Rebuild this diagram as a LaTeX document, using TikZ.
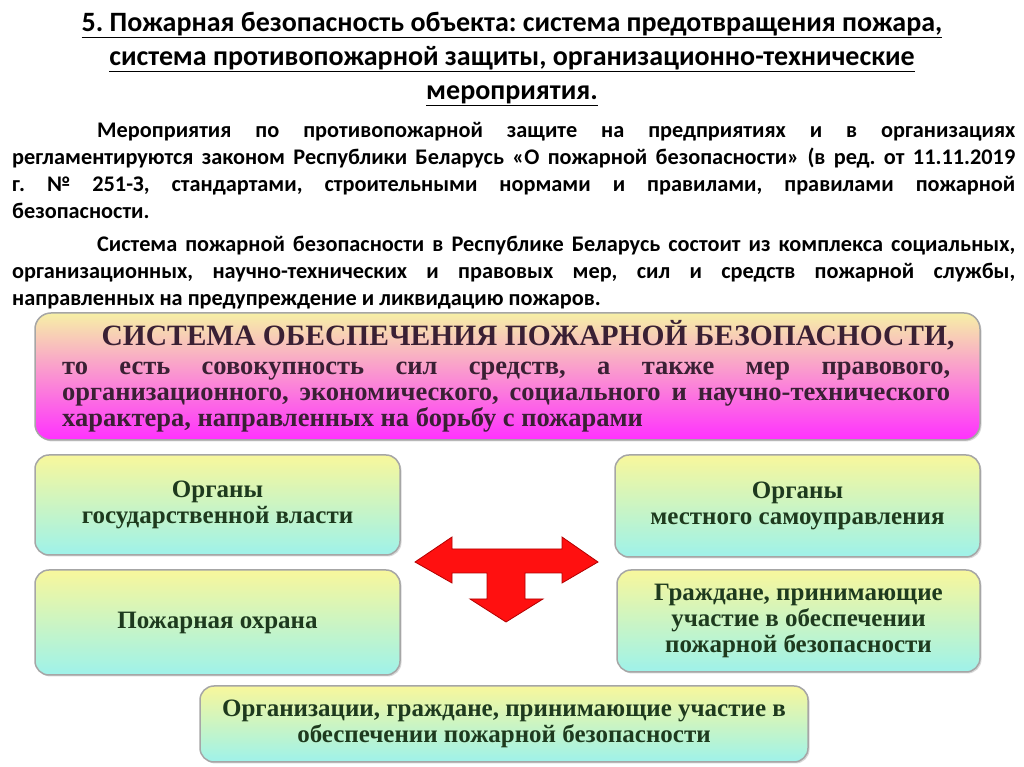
\documentclass[tikz,border=0pt]{standalone}
\usepackage{fontspec}
\setmainfont{Carlito}
\newfontfamily\boxfont{Liberation Serif}
\usetikzlibrary{shadows}
\frenchspacing
\definecolor{boxyel}{HTML}{F8F79C}
\definecolor{boxmid}{HTML}{D6F6BE}
\definecolor{boxcyan}{HTML}{9EF2EA}
\definecolor{topyel}{HTML}{F6F0A6}
\definecolor{topmid}{HTML}{F094DC}
\definecolor{topmag}{HTML}{FF30FF}
\definecolor{boxtext}{HTML}{1E3A1E}
\definecolor{toptext}{HTML}{3A2034}
\definecolor{arrowred}{HTML}{FF1010}
\tikzset{
  x=1pt, y=1pt,
  greenbox/.style={draw=gray!70, line width=1.5pt, rounded corners=14pt,
    top color=boxyel, middle color=boxmid, bottom color=boxcyan,
    drop shadow={shadow xshift=1.5pt, shadow yshift=-1.5pt, fill=gray!60},
    align=center, text=boxtext, font=\boxfont\bfseries\fontsize{25}{26}\selectfont,
    inner sep=0pt},
  pinkbox/.style={draw=gray!70, line width=1.5pt, rounded corners=16pt,
    top color=topyel, middle color=topmid, bottom color=topmag,
    drop shadow={shadow xshift=1.5pt, shadow yshift=-1.5pt, fill=gray!60},
    inner sep=0pt},
  para/.style={anchor=north west, inner sep=0pt, text width=1003pt, align=justify,
    font=\bfseries\fontsize{22.3}{27}\selectfont},
}
\begin{document}
\begin{tikzpicture}
\useasboundingbox (0,0) rectangle (1024,767);
\fill[white] (0,0) rectangle (1024,767);

% title
\node[align=center, inner sep=0pt, font=\bfseries\fontsize{28}{34}\selectfont] (title) at (512,708)
  {\underline{5. Пожарная безопасность объекта: система предотвращения пожара,}\\
   \underline{система противопожарной защиты, организационно-технические}\\
   \underline{мероприятия.}};

% paragraphs
\node[para] (p1) at (12,645)
  {\hspace*{85pt}Мероприятия по противопожарной защите на предприятиях и в организациях\linebreak
   регламентируются законом Республики Беларусь «О пожарной безопасности» (в ред. от 11.11.2019\linebreak
   г. № 251-З, стандартами, строительными нормами и правилами, правилами пожарной\linebreak
   безопасности.};
\node[para] (p2) at (12,531)
  {\hspace*{85pt}Система пожарной безопасности в Республике Беларусь состоит из комплекса социальных,\linebreak
   организационных, научно-технических и правовых мер, сил и средств пожарной службы,\linebreak
   направленных на предупреждение и ликвидацию пожаров.};

% top box
\node[pinkbox, minimum width=945pt, minimum height=127pt] (sys) at (507.5,390.5) {};
\node[inner sep=0pt, text=toptext, font=\boxfont\bfseries\fontsize{29.5}{30}\selectfont] (sysh) at (528,432)
  {СИСТЕМА ОБЕСПЕЧЕНИЯ ПОЖАРНОЙ БЕЗОПАСНОСТИ,};
\node[anchor=north west, inner sep=0pt, text width=888pt, align=justify, text=toptext,
  font=\boxfont\bfseries\fontsize{26.5}{26}\selectfont] (sysb) at (62,405)
  {то есть совокупность сил средств, а также мер правового,\linebreak
   организационного, экономического, социального и научно-технического\linebreak
   характера, направленных на борьбу с пожарами};

% side boxes
\node[greenbox, minimum width=365pt, minimum height=100pt] (gov) at (217.5,262)
  {Органы\\государственной власти};
\node[greenbox, minimum width=365pt, minimum height=105pt] (fire) at (217.5,144.5)
  {Пожарная охрана};
\node[greenbox, minimum width=365pt, minimum height=102pt] (local) at (797.5,261)
  {Органы\\местного самоуправления};
\node[greenbox, minimum width=363pt, minimum height=102pt] (cit) at (798.5,146)
  {Граждане, принимающие\\участие в обеспечении\\пожарной безопасности};
\node[greenbox, minimum width=608pt, minimum height=76pt] (org) at (504,43)
  {Организации, граждане, принимающие участие в\\обеспечении пожарной безопасности};

% red T arrow
\fill[arrowred, draw=red!70!black, line width=0.8pt, line join=miter]
  (415,205) -- (452,230) -- (452,218) -- (562,218) -- (562,230) -- (598,205)
  -- (562,184) -- (562,194) -- (525,194) -- (525,168) -- (543,168) -- (506,145)
  -- (470,168) -- (487,168) -- (487,194) -- (452,194) -- (452,184) -- cycle;
\end{tikzpicture}
\end{document}
